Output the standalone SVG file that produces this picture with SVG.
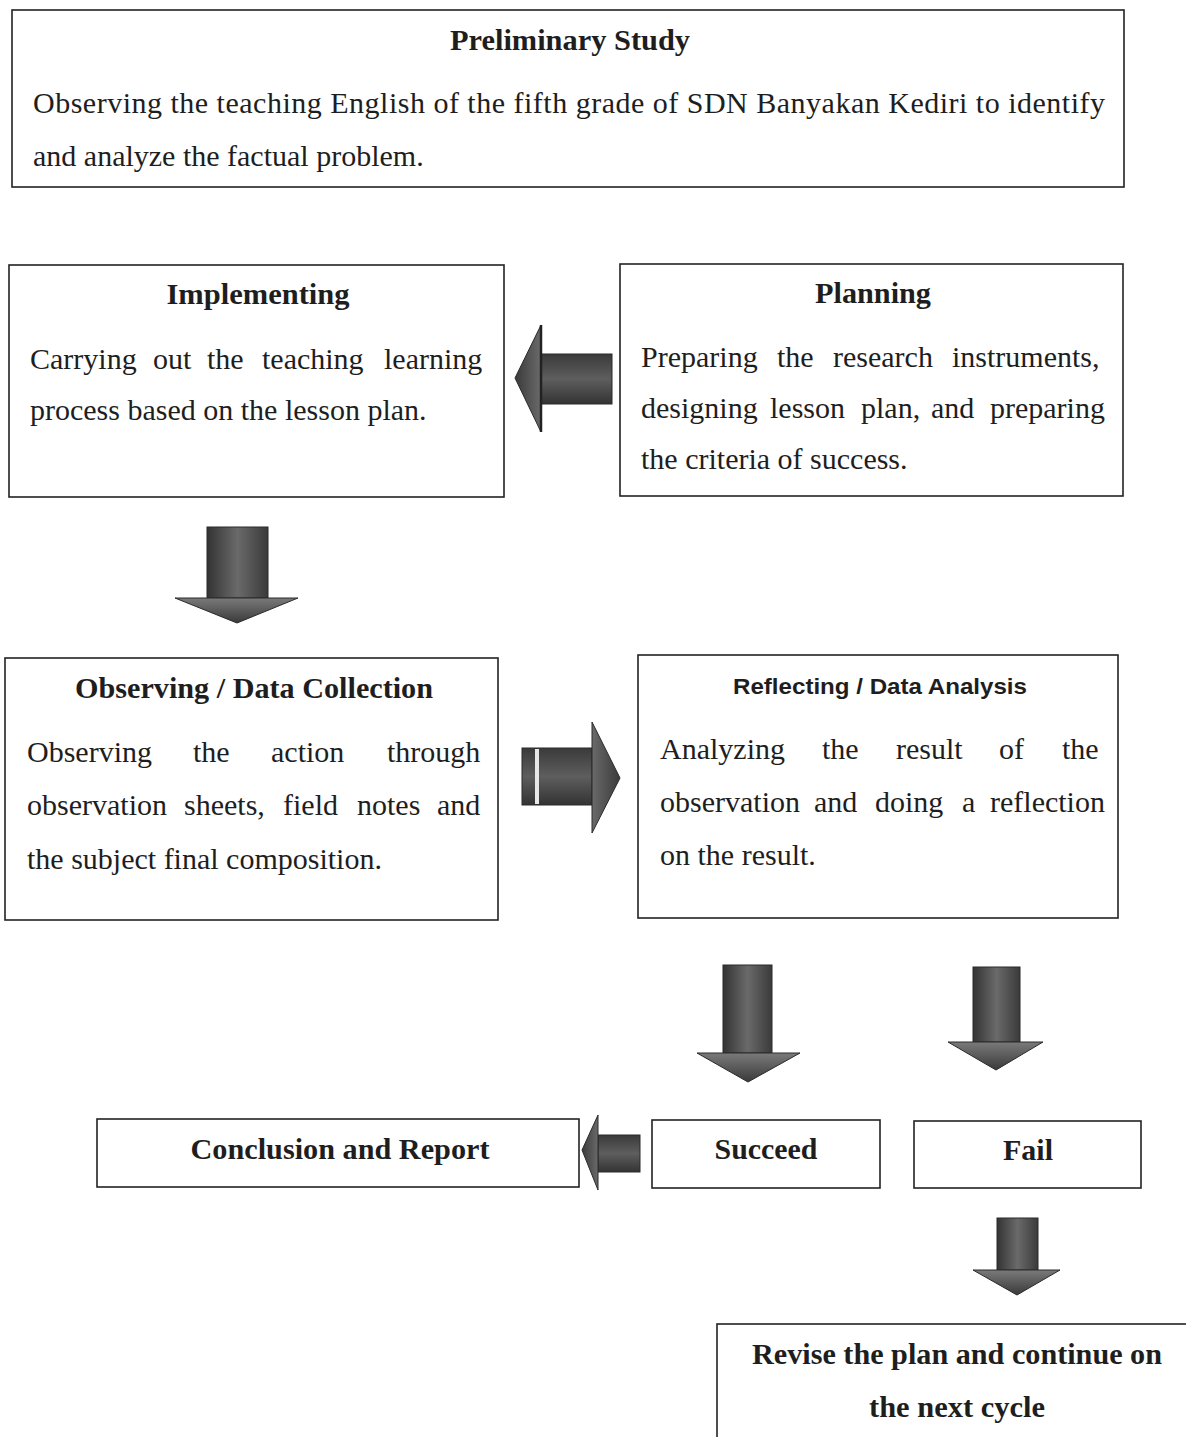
<svg xmlns="http://www.w3.org/2000/svg" width="1186" height="1437" viewBox="0 0 1186 1437">
<defs>
<style>
.box{fill:#fff;stroke:#222;stroke-width:1.6}
.t{font-family:"Liberation Serif","Times New Roman",serif;font-size:30px;fill:#1e1e1e}
.b{font-weight:bold;font-size:29px}
.s{font-family:"Liberation Sans",Arial,sans-serif;font-size:22px;font-weight:bold;fill:#1e1e1e}
.body{stroke:#2a2a2a;stroke-width:1}
.head{stroke:#2a2a2a;stroke-width:1}
</style>
<linearGradient id="gv" x1="0" y1="0" x2="1" y2="0">
<stop offset="0" stop-color="#333"/>
<stop offset="0.5" stop-color="#6a6a6a"/>
<stop offset="1" stop-color="#3a3a3a"/>
</linearGradient>
<linearGradient id="gh" x1="0" y1="0" x2="0" y2="1">
<stop offset="0" stop-color="#3a3a3a"/>
<stop offset="0.5" stop-color="#5e5e5e"/>
<stop offset="1" stop-color="#333"/>
</linearGradient>
<linearGradient id="hd" x1="0" y1="0" x2="0" y2="1">
<stop offset="0" stop-color="#7a7a7a"/>
<stop offset="1" stop-color="#3a3a3a"/>
</linearGradient>
<linearGradient id="hl" x1="0" y1="0" x2="1" y2="0">
<stop offset="0" stop-color="#3a3a3a"/>
<stop offset="1" stop-color="#6a6a6a"/>
</linearGradient>
<linearGradient id="hr" x1="0" y1="0" x2="1" y2="0">
<stop offset="0" stop-color="#6a6a6a"/>
<stop offset="1" stop-color="#3a3a3a"/>
</linearGradient>
</defs>
<rect width="1186" height="1437" fill="#fff"/>

<g id="preliminary">
<rect class="box" x="12" y="10" width="1112" height="177"/>
<text class="t b" x="570" y="50" text-anchor="middle" textLength="240" lengthAdjust="spacingAndGlyphs">Preliminary Study</text>
<text class="t" x="33" y="113" textLength="1072">Observing the teaching English of the fifth grade of SDN Banyakan Kediri to identify</text>
<text class="t" x="33" y="166">and analyze the factual problem.</text>
</g>

<g id="implementing">
<rect class="box" x="9" y="265" width="495" height="232"/>
<text class="t b" x="258" y="304" text-anchor="middle" textLength="183" lengthAdjust="spacingAndGlyphs">Implementing</text>
<text class="t" y="369"><tspan x="30">Carrying</tspan><tspan x="153">out</tspan><tspan x="207">the</tspan><tspan x="262">teaching</tspan><tspan x="384">learning</tspan></text>
<text class="t" x="30" y="420">process based on the lesson plan.</text>
</g>

<g id="planning">
<rect class="box" x="620" y="264" width="503" height="232"/>
<text class="t b" x="873" y="303" text-anchor="middle" textLength="116" lengthAdjust="spacingAndGlyphs">Planning</text>
<text class="t" y="367"><tspan x="641">Preparing</tspan><tspan x="777">the</tspan><tspan x="833">research</tspan><tspan x="952">instruments,</tspan></text>
<text class="t" y="418"><tspan x="641">designing</tspan><tspan x="770">lesson</tspan><tspan x="861">plan,</tspan><tspan x="931">and</tspan><tspan x="990">preparing</tspan></text>
<text class="t" x="641" y="469">the criteria of success.</text>
</g>

<g id="observing">
<rect class="box" x="5" y="658" width="493" height="262"/>
<text class="t b" x="254" y="698" text-anchor="middle" textLength="358" lengthAdjust="spacingAndGlyphs">Observing / Data Collection</text>
<text class="t" y="762"><tspan x="27">Observing</tspan><tspan x="193">the</tspan><tspan x="271">action</tspan><tspan x="387">through</tspan></text>
<text class="t" y="815"><tspan x="27">observation</tspan><tspan x="184">sheets,</tspan><tspan x="283">field</tspan><tspan x="357">notes</tspan><tspan x="437">and</tspan></text>
<text class="t" x="27" y="869">the subject final composition.</text>
</g>

<g id="reflecting">
<rect class="box" x="638" y="655" width="480" height="263"/>
<text class="s" x="880" y="694" text-anchor="middle" textLength="294" lengthAdjust="spacingAndGlyphs">Reflecting / Data Analysis</text>
<text class="t" y="759"><tspan x="660">Analyzing</tspan><tspan x="822">the</tspan><tspan x="896">result</tspan><tspan x="999">of</tspan><tspan x="1062">the</tspan></text>
<text class="t" y="812"><tspan x="660">observation</tspan><tspan x="814">and</tspan><tspan x="875">doing</tspan><tspan x="962">a</tspan><tspan x="990">reflection</tspan></text>
<text class="t" x="660" y="865">on the result.</text>
</g>

<g id="conclusion">
<rect class="box" x="97" y="1119" width="482" height="68"/>
<text class="t b" x="340" y="1159" text-anchor="middle" textLength="299" lengthAdjust="spacingAndGlyphs">Conclusion and Report</text>
</g>

<g id="succeed">
<rect class="box" x="652" y="1120" width="228" height="68"/>
<text class="t b" x="766" y="1159" text-anchor="middle" textLength="103" lengthAdjust="spacingAndGlyphs">Succeed</text>
</g>

<g id="fail">
<rect class="box" x="914" y="1121" width="227" height="67"/>
<text class="t b" x="1028" y="1160" text-anchor="middle" textLength="50" lengthAdjust="spacingAndGlyphs">Fail</text>
</g>

<g id="revise">
<rect class="box" x="717" y="1324" width="480" height="130"/>
<text class="t b" x="957" y="1364" text-anchor="middle" textLength="410" lengthAdjust="spacingAndGlyphs">Revise the plan and continue on</text>
<text class="t b" x="957" y="1417" text-anchor="middle" textLength="176" lengthAdjust="spacingAndGlyphs">the next cycle</text>
</g>

<g id="connectors">
<!-- Planning -> Implementing (left) -->
<rect class="body" x="541" y="354" width="71" height="50" fill="url(#gh)"/>
<polygon class="head" points="541,325 515,378 541,432" fill="url(#hl)"/>
<line x1="541" y1="325" x2="541" y2="432" stroke="#222" stroke-width="2.5"/>

<!-- Implementing -> Observing (down) -->
<rect class="body" x="207" y="527" width="61" height="71" fill="url(#gv)"/>
<polygon class="head" points="175,598 298,598 237,623" fill="url(#hd)"/>

<!-- Observing -> Reflecting (right) -->
<rect class="body" x="522" y="748" width="70" height="57" fill="url(#gh)"/>
<rect x="535" y="749" width="4" height="55" fill="#e8e8e8"/>
<polygon class="head" points="592,722 620,778 592,833" fill="url(#hr)"/>

<!-- Reflecting -> Succeed (down) -->
<rect class="body" x="723" y="965" width="49" height="88" fill="url(#gv)"/>
<polygon class="head" points="697,1053 800,1053 748,1082" fill="url(#hd)"/>

<!-- Reflecting -> Fail (down) -->
<rect class="body" x="973" y="967" width="47" height="75" fill="url(#gv)"/>
<polygon class="head" points="948,1042 1043,1042 996,1070" fill="url(#hd)"/>

<!-- Succeed -> Conclusion (left) -->
<rect class="body" x="598" y="1135" width="42" height="37" fill="url(#gh)"/>
<polygon class="head" points="598,1115 582,1150 598,1190" fill="url(#hl)"/>

<!-- Fail -> Revise (down) -->
<rect class="body" x="997" y="1218" width="41" height="52" fill="url(#gv)"/>
<polygon class="head" points="973,1270 1060,1270 1017,1295" fill="url(#hd)"/>
</g>
</svg>
